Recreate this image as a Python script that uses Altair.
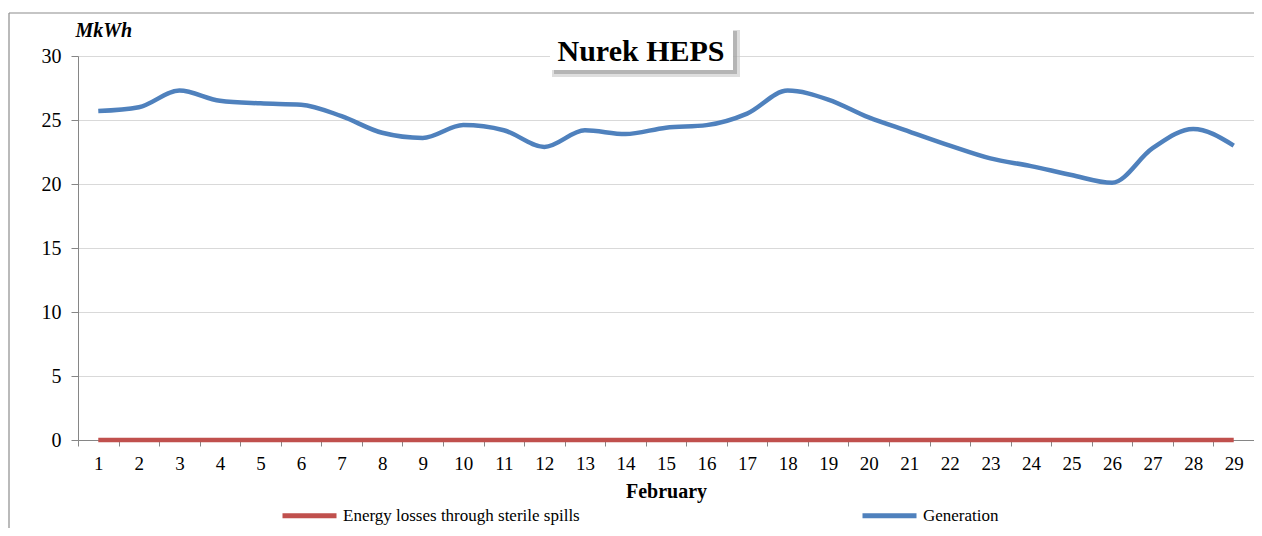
import altair as alt
import pandas as pd

days = list(range(1, 30))
generation = [25.7, 26.0, 27.3, 26.5, 26.3, 26.2, 25.3, 24.0, 23.6, 24.6,
              24.2, 22.9, 24.2, 23.9, 24.4, 24.6, 25.5, 27.3, 26.6, 25.2,
              24.1, 23.0, 22.0, 21.4, 20.7, 20.1, 22.8, 24.3, 23.0]
losses = [0] * 29
series_names = ["Energy losses through sterile spills", "Generation"]
series_colors = ["#C0504D", "#4F81BD"]

rows = []
for d, v in zip(days, losses):
    rows.append({"day": d, "value": v, "series": series_names[0]})
for d, v in zip(days, generation):
    rows.append({"day": d, "value": v, "series": series_names[1]})
df = pd.DataFrame(rows)

FONT = "Liberation Serif"
W, H = 1176, 384

lines = alt.Chart(df).mark_line(strokeWidth=4.5, interpolate="monotone").encode(
    x=alt.X("day:O", bandPosition=0.5,
            scale=alt.Scale(type="band", paddingInner=0, paddingOuter=0),
            axis=alt.Axis(title="February", labelAngle=0, tickBand="extent",
                          labelFont=FONT, labelFontSize=19, labelColor="black",
                          titleFont=FONT, titleFontSize=20, titleFontWeight="bold",
                          titleColor="black", titlePadding=8,
                          domainColor="#868686", tickColor="#868686", tickSize=6,
                          labelPadding=8, grid=False)),
    y=alt.Y("value:Q", scale=alt.Scale(domain=[0, 30], nice=False),
            axis=alt.Axis(values=[0, 5, 10, 15, 20, 25, 30], title="MkWh",
                          titleAngle=0, titleX=-3, titleY=-26, titleAlign="left",
                          titleBaseline="middle",
                          titleFont=FONT, titleFontSize=20, titleFontWeight="bold",
                          titleFontStyle="italic", titleColor="black",
                          labelFont=FONT, labelFontSize=20, labelColor="black",
                          labelPadding=10, tickSize=7,
                          domainColor="#868686", tickColor="#868686",
                          gridColor="#D9D9D9")),
    color=alt.Color("series:N", scale=alt.Scale(domain=series_names, range=series_colors),
                    sort=series_names,
                    legend=alt.Legend(title=None, orient="none", legendX=202, legendY=430,
                                      direction="horizontal", symbolType="stroke",
                                      symbolSize=2916, symbolStrokeWidth=5,
                                      labelFont=FONT, labelFontSize=17, labelColor="black",
                                      labelOffset=4, columnPadding=272, labelLimit=600)),
)

one = pd.DataFrame({"k": [0]})

shadow2 = alt.Chart(one).mark_rect(color="#c8c8c8", opacity=0.6).encode(
    x=alt.value(474), x2=alt.value(662), y=alt.value(-26), y2=alt.value(21))
shadow = alt.Chart(one).mark_rect(color="#9a9a9a", opacity=0.6).encode(
    x=alt.value(476), x2=alt.value(659), y=alt.value(-25), y2=alt.value(18))
box = alt.Chart(one).mark_rect(color="white").encode(
    x=alt.value(472), x2=alt.value(655), y=alt.value(-28), y2=alt.value(14))
title = alt.Chart(one).mark_text(font=FONT, fontSize=30, fontWeight="bold",
                                 color="black", align="center", baseline="alphabetic").encode(
    x=alt.value(563), y=alt.value(5), text=alt.value("Nurek HEPS"))

frame_v = alt.Chart(one).mark_rule(color="#8c8c8c", strokeWidth=1.2).encode(
    x=alt.value(-69), y=alt.value(-43), y2=alt.value(480))
frame_h = alt.Chart(one).mark_rule(color="#8c8c8c", strokeWidth=1.2).encode(
    x=alt.value(-69), x2=alt.value(W), y=alt.value(-43))

chart = alt.layer(frame_v, frame_h, lines, shadow2, shadow, box, title).properties(
    width=W, height=H,
    autosize=alt.AutoSizeParams(type="none"),
    padding={"left": 70, "top": 48, "right": 0, "bottom": 88},
).configure_view(stroke=None).configure(background="white")

chart.save("out.html", embed_options={"renderer": "svg", "actions": False})
